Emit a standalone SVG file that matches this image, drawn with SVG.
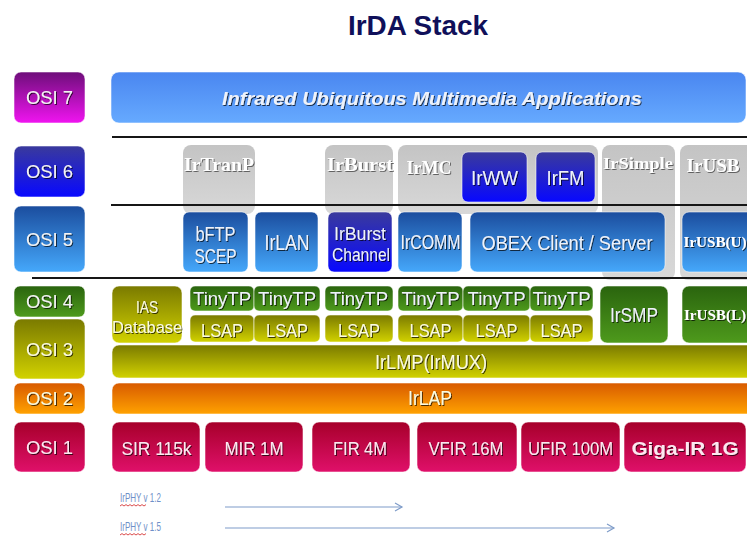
<svg xmlns="http://www.w3.org/2000/svg" width="747" height="536" viewBox="0 0 747 536">
  <defs>
    <linearGradient id="gPurple" x1="0" y1="0" x2="0" y2="1"><stop offset="0" stop-color="#6e0e7a"/><stop offset="1" stop-color="#f014f0"/></linearGradient>
    <linearGradient id="gApp" x1="0" y1="0" x2="0" y2="1"><stop offset="0" stop-color="#4a86f0"/><stop offset="1" stop-color="#66aaff"/></linearGradient>
    <linearGradient id="gIndigo" x1="0" y1="0" x2="0" y2="1"><stop offset="0" stop-color="#3a3a9c"/><stop offset="1" stop-color="#0808ff"/></linearGradient>
    <linearGradient id="gBlue" x1="0" y1="0" x2="0" y2="1"><stop offset="0" stop-color="#1b4d9e"/><stop offset="1" stop-color="#45a8fb"/></linearGradient>
    <linearGradient id="gGreen" x1="0" y1="0" x2="0" y2="1"><stop offset="0" stop-color="#2a640e"/><stop offset="1" stop-color="#4e9a1c"/></linearGradient>
    <linearGradient id="gOlive" x1="0" y1="0" x2="0" y2="1"><stop offset="0" stop-color="#7a7a00"/><stop offset="1" stop-color="#d2d200"/></linearGradient>
    <linearGradient id="gOrange" x1="0" y1="0" x2="0" y2="1"><stop offset="0" stop-color="#d85a00"/><stop offset="1" stop-color="#ffa200"/></linearGradient>
    <linearGradient id="gCrimson" x1="0" y1="0" x2="0" y2="1"><stop offset="0" stop-color="#a6002a"/><stop offset="1" stop-color="#e0106a"/></linearGradient>
    <linearGradient id="gGray" x1="0" y1="0" x2="0" y2="1"><stop offset="0" stop-color="#c4c4c4"/><stop offset="1" stop-color="#d8d8d8"/></linearGradient>
    <filter id="sh" x="-10%" y="-30%" width="130%" height="170%">
      <feDropShadow dx="1" dy="1" stdDeviation="0.6" flood-color="#000" flood-opacity="0.7"/>
    </filter>
    <filter id="emb" x="-10%" y="-30%" width="130%" height="170%">
      <feDropShadow dx="1" dy="1" stdDeviation="0.5" flood-color="#555" flood-opacity="0.9"/>
    </filter>
    <marker id="ah" markerWidth="10" markerHeight="10" refX="8" refY="5" orient="auto" markerUnits="userSpaceOnUse">
      <path d="M1,1 L8,5 L1,9" fill="none" stroke="#7f9cc9" stroke-width="1.2"/>
    </marker>
  </defs>
  <style>
    .box { stroke: rgba(255,255,255,0.55); stroke-width: 1; }
    .col { fill: url(#gGray); }
    .lb { font-family: "Liberation Sans", Arial, sans-serif; text-anchor: middle; fill: #eef2fa; filter: url(#sh); }
    .osi { font-size: 19px; fill: #f4f4f4; }
    .cl { font-family: "Liberation Serif", "Times New Roman", serif; font-weight: bold; text-anchor: middle; fill: #ffffff; filter: url(#emb); }
    .ylw { fill: #fbfbe0; }
    .pnk { fill: #fde8f0; }
    .sep { stroke: #161616; stroke-width: 2.2; }
    .arr { stroke: #7f9cc9; stroke-width: 1.2; fill: none; marker-end: url(#ah); }
    .ver { font-family: "Liberation Sans", Arial, sans-serif; font-size: 13px; fill: #6f8fc8; }
    .wavy { stroke: #d02020; stroke-width: 0.8; fill: none; }
  </style>

  <rect width="747" height="536" fill="#ffffff"/>

  <text x="418" y="35" font-family="Liberation Sans, Arial, sans-serif" font-weight="bold" font-size="28" fill="#10105a" text-anchor="middle" textLength="140" lengthAdjust="spacingAndGlyphs">IrDA Stack</text>

  <!-- OSI layer tabs -->
  <g id="osi7"><rect class="box" x="14" y="72" width="71" height="51" rx="7" fill="url(#gPurple)"/><text class="lb osi" x="49.5" y="104" textLength="47" lengthAdjust="spacingAndGlyphs">OSI 7</text></g>
  <g id="osi6"><rect class="box" x="14" y="146" width="71" height="51" rx="7" fill="url(#gIndigo)"/><text class="lb osi" x="49.5" y="178" textLength="47" lengthAdjust="spacingAndGlyphs">OSI 6</text></g>
  <g id="osi5"><rect class="box" x="14" y="206" width="71" height="66" rx="7" fill="url(#gBlue)"/><text class="lb osi" x="49.5" y="246" textLength="47" lengthAdjust="spacingAndGlyphs">OSI 5</text></g>
  <g id="osi4"><rect class="box" x="14" y="286" width="71" height="31" rx="6" fill="url(#gGreen)"/><text class="lb osi" x="49.5" y="308" textLength="47" lengthAdjust="spacingAndGlyphs">OSI 4</text></g>
  <g id="osi3"><rect class="box" x="14" y="319" width="71" height="60" rx="7" fill="url(#gOlive)"/><text class="lb osi ylw" x="49.5" y="356" textLength="47" lengthAdjust="spacingAndGlyphs">OSI 3</text></g>
  <g id="osi2"><rect class="box" x="14" y="383" width="71" height="31" rx="6" fill="url(#gOrange)"/><text class="lb osi ylw" x="49.5" y="405" textLength="47" lengthAdjust="spacingAndGlyphs">OSI 2</text></g>
  <g id="osi1"><rect class="box" x="14" y="422" width="71" height="50" rx="7" fill="url(#gCrimson)"/><text class="lb osi pnk" x="49.5" y="454" textLength="47" lengthAdjust="spacingAndGlyphs">OSI 1</text></g>

  <!-- Layer 7 -->
  <g id="apps"><rect class="box" x="111" y="72" width="635" height="51" rx="8" fill="url(#gApp)"/>
    <text class="lb" x="432" y="105" font-size="19" font-weight="bold" font-style="italic" fill="#ffffff" textLength="420" lengthAdjust="spacingAndGlyphs">Infrared Ubiquitous Multimedia Applications</text></g>

  <!-- Layer 6 protocol columns -->
  <g id="irtranp"><rect class="col" x="183" y="145" width="72" height="69" rx="8"/><text class="cl" x="219" y="171" font-size="19" textLength="70" lengthAdjust="spacingAndGlyphs">IrTranP</text></g>
  <g id="irburst"><rect class="col" x="325" y="145" width="68" height="69" rx="8"/><text class="cl" x="360" y="171" font-size="19" textLength="66" lengthAdjust="spacingAndGlyphs">IrBurst</text></g>
  <g id="irmc"><rect class="col" x="398" y="145" width="200" height="69" rx="8"/><text class="cl" x="429" y="174" font-size="19" textLength="45" lengthAdjust="spacingAndGlyphs">IrMC</text></g>
  <g id="irsimple"><rect class="col" x="602" y="145" width="73" height="135" rx="8"/><text class="cl" x="638" y="169" font-size="16" textLength="70" lengthAdjust="spacingAndGlyphs">IrSimple</text></g>
  <g id="irusb"><rect class="col" x="680" y="145" width="80" height="135" rx="8"/><text class="cl" x="713" y="172" font-size="19" textLength="53" lengthAdjust="spacingAndGlyphs">IrUSB</text></g>

  <g id="irww"><rect class="box" x="462" y="152" width="65" height="50" rx="6" fill="url(#gIndigo)"/><text class="lb" x="494.5" y="185" font-size="21" textLength="47" lengthAdjust="spacingAndGlyphs">IrWW</text></g>
  <g id="irfm"><rect class="box" x="536" y="152" width="59" height="50" rx="6" fill="url(#gIndigo)"/><text class="lb" x="565.5" y="185" font-size="21" textLength="38" lengthAdjust="spacingAndGlyphs">IrFM</text></g>

  <!-- Layer separators -->
  <g id="separators">
    <line class="sep" x1="112" y1="137" x2="747" y2="137"/>
    <line class="sep" x1="111" y1="205" x2="747" y2="205"/>
    <line class="sep" x1="32" y1="278" x2="747" y2="278"/>
  </g>

  <!-- Layer 5 -->
  <g id="bftp"><rect class="box" x="183" y="212" width="65" height="60" rx="6" fill="url(#gBlue)"/>
    <text class="lb" x="215.5" y="241" font-size="20" textLength="40" lengthAdjust="spacingAndGlyphs">bFTP</text>
    <text class="lb" x="215.5" y="263" font-size="20" textLength="42" lengthAdjust="spacingAndGlyphs">SCEP</text></g>
  <g id="irlan"><rect class="box" x="255" y="212" width="63" height="60" rx="6" fill="url(#gBlue)"/><text class="lb" x="287" y="250" font-size="22" textLength="45" lengthAdjust="spacingAndGlyphs">IrLAN</text></g>
  <g id="irburst-channel"><rect class="box" x="328" y="212" width="64" height="60" rx="6" fill="url(#gIndigo)"/>
    <text class="lb" x="360" y="240" font-size="19" textLength="52" lengthAdjust="spacingAndGlyphs">IrBurst</text>
    <text class="lb" x="361" y="261" font-size="19" textLength="58" lengthAdjust="spacingAndGlyphs">Channel</text></g>
  <g id="ircomm"><rect class="box" x="398" y="212" width="64" height="60" rx="6" fill="url(#gBlue)"/><text class="lb" x="430.5" y="249" font-size="20" textLength="60" lengthAdjust="spacingAndGlyphs">IrCOMM</text></g>
  <g id="obex"><rect class="box" x="470" y="212" width="195" height="60" rx="7" fill="url(#gBlue)"/><text class="lb" x="567" y="250" font-size="21" textLength="171" lengthAdjust="spacingAndGlyphs">OBEX Client / Server</text></g>
  <g id="irusb-u"><rect class="box" x="682" y="212" width="80" height="60" rx="7" fill="url(#gBlue)"/><text class="cl" x="715" y="247" font-size="15" fill="#eef2fa" textLength="63" lengthAdjust="spacingAndGlyphs" style="filter:url(#sh)">IrUSB(U)</text></g>

  <!-- Layers 4 and 3 -->
  <g id="ias"><rect class="box" x="112" y="286" width="70" height="57" rx="7" fill="url(#gOlive)"/>
    <text class="lb ylw" x="147" y="313" font-size="17" textLength="22" lengthAdjust="spacingAndGlyphs">IAS</text>
    <text class="lb ylw" x="147" y="333" font-size="17" textLength="70" lengthAdjust="spacingAndGlyphs">Database</text></g>

  <g id="tinytp-1"><rect class="box" x="190" y="286" width="64" height="25" rx="5" fill="url(#gGreen)"/><text class="lb" x="222" y="305" font-size="18" textLength="58" lengthAdjust="spacingAndGlyphs">TinyTP</text></g>
  <g id="tinytp-2"><rect class="box" x="254" y="286" width="66" height="25" rx="5" fill="url(#gGreen)"/><text class="lb" x="287" y="305" font-size="18" textLength="58" lengthAdjust="spacingAndGlyphs">TinyTP</text></g>
  <g id="tinytp-3"><rect class="box" x="325" y="286" width="68" height="25" rx="5" fill="url(#gGreen)"/><text class="lb" x="359" y="305" font-size="18" textLength="58" lengthAdjust="spacingAndGlyphs">TinyTP</text></g>
  <g id="tinytp-4"><rect class="box" x="398" y="286" width="65" height="25" rx="5" fill="url(#gGreen)"/><text class="lb" x="430.5" y="305" font-size="18" textLength="58" lengthAdjust="spacingAndGlyphs">TinyTP</text></g>
  <g id="tinytp-5"><rect class="box" x="463" y="286" width="67" height="25" rx="5" fill="url(#gGreen)"/><text class="lb" x="496.5" y="305" font-size="18" textLength="58" lengthAdjust="spacingAndGlyphs">TinyTP</text></g>
  <g id="tinytp-6"><rect class="box" x="530" y="286" width="63" height="25" rx="5" fill="url(#gGreen)"/><text class="lb" x="561.5" y="305" font-size="18" textLength="58" lengthAdjust="spacingAndGlyphs">TinyTP</text></g>

  <g id="lsap-1"><rect class="box" x="190" y="315" width="64" height="27" rx="5" fill="url(#gOlive)"/><text class="lb ylw" x="222" y="337" font-size="18" textLength="42" lengthAdjust="spacingAndGlyphs">LSAP</text></g>
  <g id="lsap-2"><rect class="box" x="254" y="315" width="66" height="27" rx="5" fill="url(#gOlive)"/><text class="lb ylw" x="287" y="337" font-size="18" textLength="42" lengthAdjust="spacingAndGlyphs">LSAP</text></g>
  <g id="lsap-3"><rect class="box" x="325" y="315" width="68" height="27" rx="5" fill="url(#gOlive)"/><text class="lb ylw" x="359" y="337" font-size="18" textLength="42" lengthAdjust="spacingAndGlyphs">LSAP</text></g>
  <g id="lsap-4"><rect class="box" x="398" y="315" width="65" height="27" rx="5" fill="url(#gOlive)"/><text class="lb ylw" x="430.5" y="337" font-size="18" textLength="42" lengthAdjust="spacingAndGlyphs">LSAP</text></g>
  <g id="lsap-5"><rect class="box" x="463" y="315" width="67" height="27" rx="5" fill="url(#gOlive)"/><text class="lb ylw" x="496.5" y="337" font-size="18" textLength="42" lengthAdjust="spacingAndGlyphs">LSAP</text></g>
  <g id="lsap-6"><rect class="box" x="530" y="315" width="63" height="27" rx="5" fill="url(#gOlive)"/><text class="lb ylw" x="561.5" y="337" font-size="18" textLength="42" lengthAdjust="spacingAndGlyphs">LSAP</text></g>

  <g id="irsmp"><rect class="box" x="600" y="286" width="68" height="57" rx="7" fill="url(#gGreen)"/><text class="lb" x="634" y="322" font-size="21" textLength="48" lengthAdjust="spacingAndGlyphs">IrSMP</text></g>
  <g id="irusb-l"><rect class="box" x="682" y="286" width="80" height="57" rx="7" fill="url(#gGreen)"/><text class="cl" x="715" y="320" font-size="15" fill="#eef2fa" textLength="62" lengthAdjust="spacingAndGlyphs" style="filter:url(#sh)">IrUSB(L)</text></g>

  <g id="irlmp"><rect class="box" x="112" y="345" width="650" height="33" rx="7" fill="url(#gOlive)"/><text class="lb ylw" x="431" y="369" font-size="20" textLength="112" lengthAdjust="spacingAndGlyphs">IrLMP(IrMUX)</text></g>

  <!-- Layer 2 -->
  <g id="irlap"><rect class="box" x="112" y="383" width="650" height="31" rx="7" fill="url(#gOrange)"/><text class="lb ylw" x="430" y="405" font-size="20" textLength="44" lengthAdjust="spacingAndGlyphs">IrLAP</text></g>

  <!-- Layer 1 physical rates -->
  <g id="sir"><rect class="box" x="112" y="422" width="88" height="50" rx="7" fill="url(#gCrimson)"/><text class="lb pnk" x="156.5" y="455" font-size="19" textLength="70" lengthAdjust="spacingAndGlyphs">SIR 115k</text></g>
  <g id="mir"><rect class="box" x="205" y="422" width="98" height="50" rx="7" fill="url(#gCrimson)"/><text class="lb pnk" x="254" y="455" font-size="19" textLength="59" lengthAdjust="spacingAndGlyphs">MIR 1M</text></g>
  <g id="fir"><rect class="box" x="312" y="422" width="98" height="50" rx="7" fill="url(#gCrimson)"/><text class="lb pnk" x="360" y="455" font-size="19" textLength="54" lengthAdjust="spacingAndGlyphs">FIR 4M</text></g>
  <g id="vfir"><rect class="box" x="417" y="422" width="100" height="50" rx="7" fill="url(#gCrimson)"/><text class="lb pnk" x="466" y="455" font-size="19" textLength="75" lengthAdjust="spacingAndGlyphs">VFIR 16M</text></g>
  <g id="ufir"><rect class="box" x="521" y="422" width="99" height="50" rx="7" fill="url(#gCrimson)"/><text class="lb pnk" x="570.5" y="455" font-size="19" textLength="85" lengthAdjust="spacingAndGlyphs">UFIR 100M</text></g>
  <g id="giga"><rect class="box" x="624" y="422" width="122" height="50" rx="7" fill="url(#gCrimson)"/><text class="lb pnk" x="685" y="455" font-size="19" font-weight="bold" textLength="107" lengthAdjust="spacingAndGlyphs">Giga-IR 1G</text></g>

  <!-- IrPHY version coverage -->
  <g id="irphy-12">
    <text class="ver" x="120" y="502" textLength="41" lengthAdjust="spacingAndGlyphs">IrPHY v 1.2</text>
    <path class="wavy" d="M120,506 l2,-1.4 l2,1.4 l2,-1.4 l2,1.4 l2,-1.4 l2,1.4 l2,-1.4 l2,1.4 l2,-1.4 l2,1.4 l2,-1.4 l2,1.4 l2,-1.4"/>
  </g>
  <g id="irphy-15">
    <text class="ver" x="120" y="531" textLength="41" lengthAdjust="spacingAndGlyphs">IrPHY v 1.5</text>
    <path class="wavy" d="M120,535 l2,-1.4 l2,1.4 l2,-1.4 l2,1.4 l2,-1.4 l2,1.4 l2,-1.4 l2,1.4 l2,-1.4 l2,1.4 l2,-1.4 l2,1.4 l2,-1.4"/>
  </g>
  <g id="connectors">
    <line class="arr" x1="225" y1="507" x2="402" y2="507"/>
    <line class="arr" x1="225" y1="528" x2="614" y2="528"/>
  </g>
</svg>
